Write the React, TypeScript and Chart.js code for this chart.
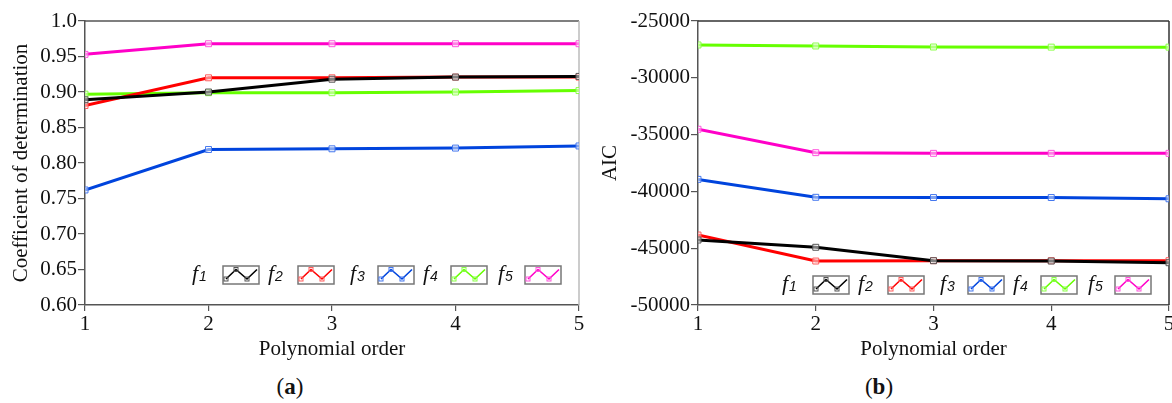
import React, { useEffect, useRef } from 'react';
import { Chart, registerables } from 'chart.js';

Chart.register(...registerables);

// ---------- data ----------
const orders = [1, 2, 3, 4, 5];
const seriesNames = ['f1', 'f2', 'f3', 'f4', 'f5'];
const seriesColors = ['#000000', '#ff0000', '#0044dd', '#66ff00', '#ff00c8'];
const markerColors = ['#555555', '#ff5a5a', '#4477ee', '#88ff44', '#ff55dd'];

const r2F1 = [0.889, 0.9, 0.918, 0.921, 0.922];
const r2F2 = [0.881, 0.92, 0.92, 0.921, 0.921];
const r2F3 = [0.762, 0.819, 0.82, 0.821, 0.824];
const r2F4 = [0.897, 0.899, 0.899, 0.9, 0.902];
const r2F5 = [0.953, 0.968, 0.968, 0.968, 0.968];

const aicF1 = [-44280, -44920, -46100, -46130, -46280];
const aicF2 = [-43840, -46130, -46100, -46100, -46100];
const aicF3 = [-38940, -40520, -40540, -40540, -40650];
const aicF4 = [-27110, -27200, -27290, -27300, -27300];
const aicF5 = [-34530, -36590, -36650, -36650, -36650];

const r2TickValues = [0.6, 0.65, 0.7, 0.75, 0.8, 0.85, 0.9, 0.95, 1.0];
const r2TickLabels = ['0.60', '0.65', '0.70', '0.75', '0.80', '0.85', '0.90', '0.95', '1.0'];
const aicTickValues = [-50000, -45000, -40000, -35000, -30000, -25000];
const aicTickLabels = ['-50000', '-45000', '-40000', '-35000', '-30000', '-25000'];

const xTitle = 'Polynomial order';
const r2Title = 'Coefficient of determination';
const aicTitle = 'AIC';

// ---------- styling ----------
const SERIF = '"Liberation Serif", "Times New Roman", serif';
const FONT_SIZE = 21;

const legendLabelOffsets = [-387, -311, -229, -156, -81];
const legendBoxOffsets = [-356, -281, -201, -128, -54];

const legendPlugin = {
  id: 'fLegend',
  afterDraw(chart: any, _args: any, opts: any) {
    const { ctx, chartArea } = chart;
    const { right, bottom } = chartArea;
    const bh = 18;
    const bw = 36;
    const by = bottom - opts.gap - bh;
    ctx.save();
    seriesNames.forEach((name, i) => {
      const lx = right + legendLabelOffsets[i];
      const baseline = by + 14;
      ctx.fillStyle = '#111';
      ctx.textBaseline = 'alphabetic';
      ctx.textAlign = 'left';
      ctx.font = 'italic 22px ' + SERIF;
      ctx.fillText(name.charAt(0), lx, baseline);
      const fw = ctx.measureText(name.charAt(0)).width;
      ctx.font = 'italic 14px "Liberation Sans", Arial, sans-serif';
      ctx.fillText(name.slice(1), lx + fw + 1, baseline + 1);

      const bx = right + legendBoxOffsets[i];
      ctx.fillStyle = '#ffffff';
      ctx.fillRect(bx, by, bw, bh);
      ctx.strokeStyle = '#777777';
      ctx.lineWidth = 1.5;
      ctx.strokeRect(bx, by, bw, bh);
      const pts = [
        [bx + 3, by + 13],
        [bx + 13, by + 3.5],
        [bx + 24, by + 13],
        [bx + 34, by + 3.5],
      ];
      ctx.strokeStyle = seriesColors[i];
      ctx.lineWidth = 1.6;
      ctx.beginPath();
      pts.forEach((p, k) => (k === 0 ? ctx.moveTo(p[0], p[1]) : ctx.lineTo(p[0], p[1])));
      ctx.stroke();
      ctx.strokeStyle = markerColors[i];
      ctx.lineWidth = 1;
      [pts[0], pts[1], pts[2]].forEach((p) => ctx.strokeRect(p[0] - 2, p[1] - 2, 4, 4));
    });
    ctx.restore();
  },
};

const framePlugin = {
  id: 'frame',
  beforeDatasetsDraw(chart: any, _args: any, opts: any) {
    const { ctx, chartArea } = chart;
    const { left, top, right, bottom } = chartArea;
    ctx.save();
    ctx.lineWidth = 1.5;
    ctx.strokeStyle = opts.topColor;
    ctx.beginPath();
    ctx.moveTo(left, top);
    ctx.lineTo(right, top);
    ctx.stroke();
    ctx.strokeStyle = opts.rightColor;
    ctx.beginPath();
    ctx.moveTo(right, top);
    ctx.lineTo(right, bottom);
    ctx.stroke();
    ctx.restore();
  },
};

type PanelProps = {
  series: number[][];
  tickValues: number[];
  tickLabels: string[];
  yMin: number;
  yMax: number;
  yTitle: string;
  yWidth: number;
  yTitlePad: number;
  rightPad: number;
  legendGap: number;
  topColor: string;
  rightColor: string;
  width: number;
  height: number;
};

function Panel(p: PanelProps) {
  const ref = useRef<HTMLCanvasElement | null>(null);
  useEffect(() => {
    if (!ref.current) return;
    const datasets = p.series.map((vals, i) => ({
      label: seriesNames[i],
      data: orders.map((o, k) => ({ x: o, y: vals[k] })),
      borderColor: seriesColors[i],
      backgroundColor: seriesColors[i],
      borderWidth: 3,
      pointStyle: 'rect',
      pointRadius: 4.2,
      pointBorderWidth: 1,
      pointBorderColor: markerColors[i],
      pointBackgroundColor: 'rgba(255,255,255,0.5)',
      tension: 0,
    }));
    const chart = new Chart(ref.current, {
      type: 'line',
      data: { datasets },
      plugins: [framePlugin, legendPlugin],
      options: {
        animation: false,
        responsive: false,
        layout: { padding: { left: 0, top: 21, right: p.rightPad, bottom: 0 } },
        plugins: {
          legend: { display: false },
          tooltip: { enabled: false },
          fLegend: { gap: p.legendGap },
          frame: { topColor: p.topColor, rightColor: p.rightColor },
        } as any,
        scales: {
          x: {
            type: 'linear',
            min: orders[0],
            max: orders[orders.length - 1],
            afterFit: (s: any) => {
              s.height = 65;
            },
            afterBuildTicks: (s: any) => {
              s.ticks = orders.map((v) => ({ value: v }));
            },
            ticks: {
              callback: (v: any) => String(v),
              font: { family: SERIF, size: FONT_SIZE },
              color: '#111',
              padding: 1,
              maxRotation: 0,
            },
            grid: { drawOnChartArea: false, drawTicks: true, tickLength: 6, color: '#555', lineWidth: 1.2 },
            border: { display: true, color: '#555', width: 1.5 },
            title: {
              display: true,
              text: xTitle,
              font: { family: SERIF, size: FONT_SIZE },
              color: '#111',
              padding: { top: 0, bottom: 8 },
            },
          },
          y: {
            type: 'linear',
            min: p.yMin,
            max: p.yMax,
            afterFit: (s: any) => {
              s.width = p.yWidth;
            },
            afterBuildTicks: (s: any) => {
              s.ticks = p.tickValues.map((v) => ({ value: v }));
            },
            ticks: {
              callback: (_v: any, i: number) => p.tickLabels[i],
              font: { family: SERIF, size: FONT_SIZE },
              color: '#111',
              padding: 1,
            },
            grid: { drawOnChartArea: false, drawTicks: true, tickLength: 7, color: '#555', lineWidth: 1.2 },
            border: { display: true, color: '#555', width: 1.5 },
            title: {
              display: true,
              text: p.yTitle,
              font: { family: SERIF, size: FONT_SIZE },
              color: '#111',
              padding: { top: p.yTitlePad, bottom: 0 },
            },
          },
        },
      } as any,
    });
    return () => chart.destroy();
  }, []);
  return <canvas ref={ref} width={p.width} height={p.height} style={{ display: 'block', width: p.width, height: p.height }} />;
}

export default function App() {
  const labelStyle: React.CSSProperties = {
    position: 'absolute',
    top: 373,
    fontFamily: SERIF,
    fontSize: 23,
    lineHeight: '28px',
    color: '#111',
    transform: 'translateX(-50%)',
    whiteSpace: 'nowrap',
  };
  return (
    <div style={{ position: 'absolute', left: 0, top: 0, width: 1172, height: 403, overflow: 'hidden', background: '#fff' }}>
      <div style={{ position: 'absolute', left: 0, top: 0 }}>
        <Panel
          series={[r2F1, r2F2, r2F3, r2F4, r2F5]}
          tickValues={r2TickValues}
          tickLabels={r2TickLabels}
          yMin={0.6}
          yMax={1.0}
          yTitle={r2Title}
          yWidth={85}
          yTitlePad={9}
          rightPad={7}
          legendGap={21}
          topColor="#555"
          rightColor="#bbb"
          width={586}
          height={370}
        />
      </div>
      <div style={{ position: 'absolute', left: 590, top: 0 }}>
        <Panel
          series={[aicF1, aicF2, aicF3, aicF4, aicF5]}
          tickValues={aicTickValues}
          tickLabels={aicTickLabels}
          yMin={-50000}
          yMax={-25000}
          yTitle={aicTitle}
          yWidth={108}
          yTitlePad={8}
          rightPad={11}
          legendGap={11}
          topColor="#333"
          rightColor="#333"
          width={590}
          height={370}
        />
      </div>
      <div style={{ ...labelStyle, left: 290 }}>
        (<b>a</b>)
      </div>
      <div style={{ ...labelStyle, left: 879 }}>
        (<b>b</b>)
      </div>
    </div>
  );
}
